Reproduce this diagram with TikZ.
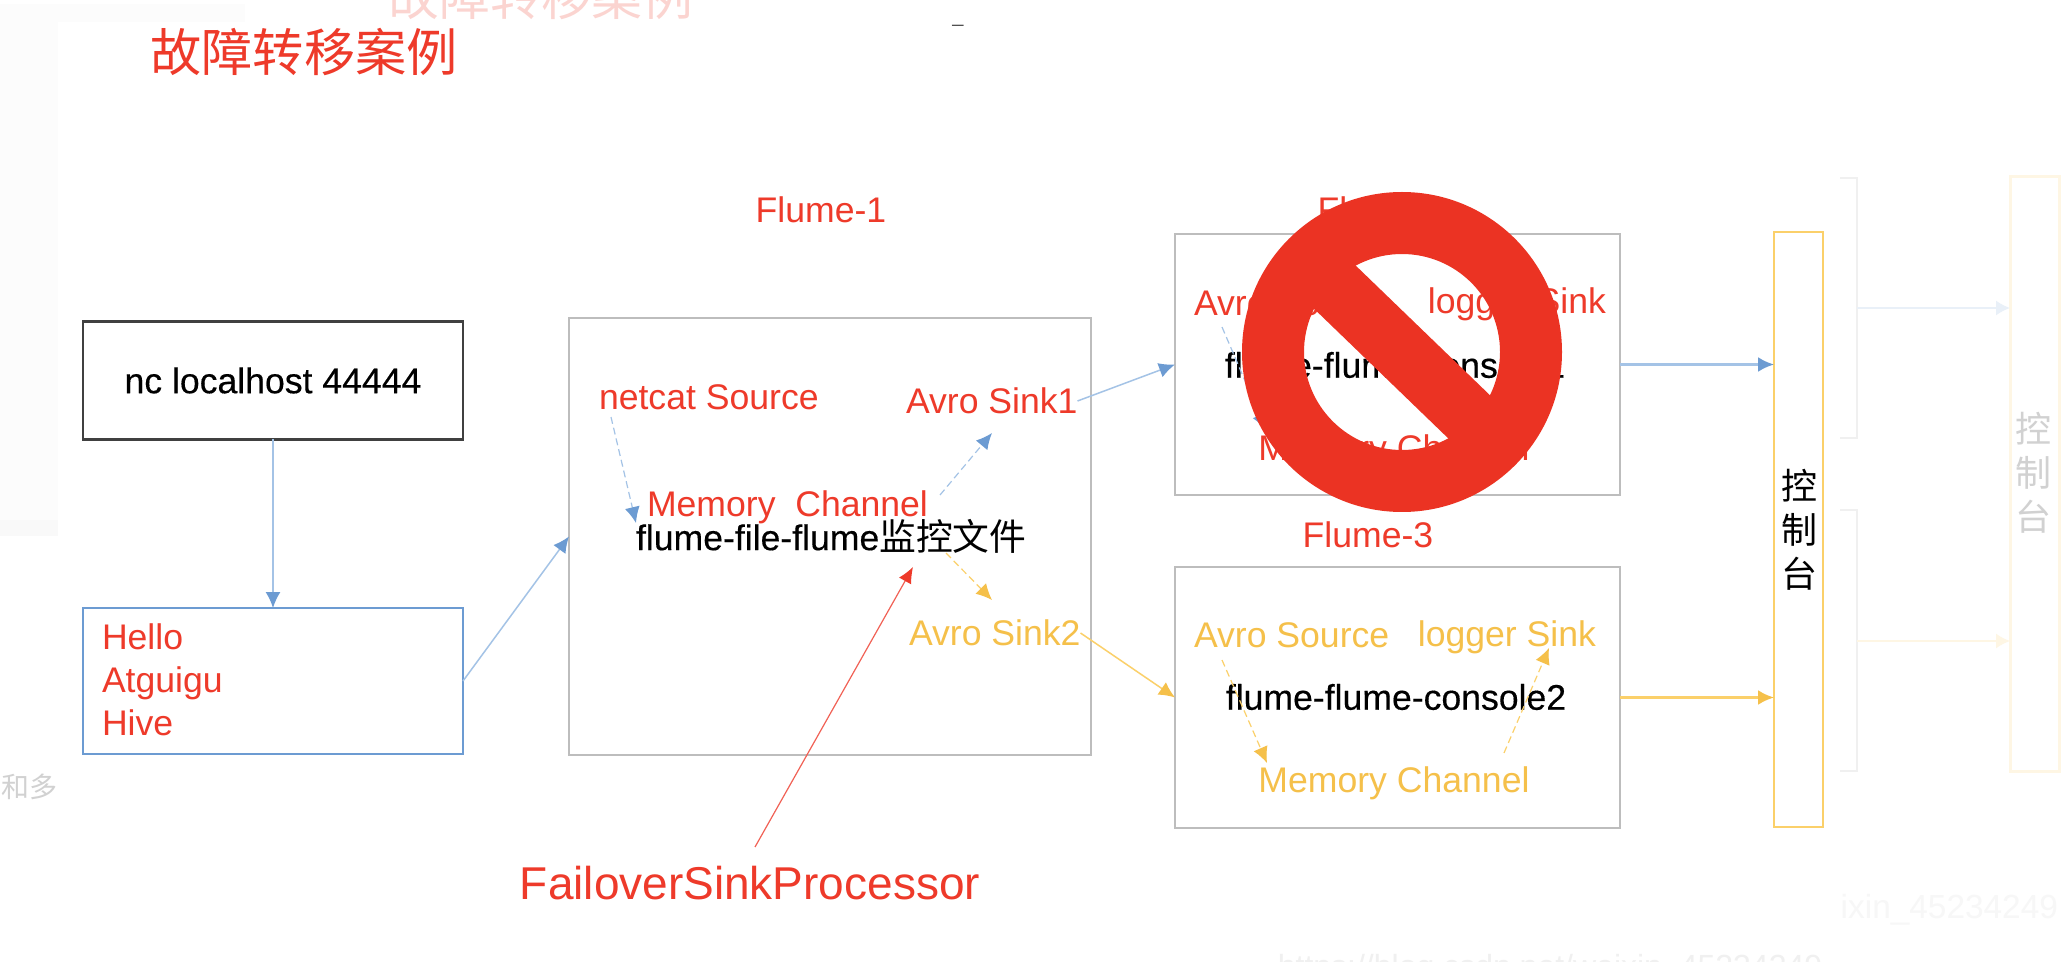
\documentclass[tikz,border=0pt]{standalone}
\usepackage{fontspec}
\setmainfont{Liberation Sans}
\newfontfamily\cjk{Noto Sans CJK SC}
\newfontfamily\heavy[FakeBold=0.35]{Liberation Sans}
\usetikzlibrary{arrows.meta}
\definecolor{rd}{HTML}{EE3A2A}
\definecolor{stopred}{HTML}{EB3323}
\definecolor{yl}{HTML}{F5C04A}
\definecolor{ylline}{HTML}{FBD06A}
\definecolor{blu}{HTML}{6C9BD2}
\definecolor{bluline}{HTML}{A4C3E6}
\definecolor{gry}{HTML}{BDBDBD}
\tikzset{
  x=0.5pt,y=-0.5pt,
  txt/.style={inner sep=0pt,outer sep=0pt,font=\fontsize{17.8}{21.5}\selectfont},
  redt/.style={txt,text=rd},
  ylt/.style={txt,text=yl},
  blackt/.style={txt,text=black,font=\heavy\fontsize{17.8}{21.5}\selectfont},
  frame/.style={draw,line width=1.1pt,inner sep=0pt,outer sep=0pt,rectangle,fill=none},
  bluearrow/.style={draw=bluline,line width=0.75pt,arrows={-{Latex[length=8pt,width=7.5pt,color=blu]}}},
  yelarrow/.style={draw=ylline,line width=0.75pt,arrows={-{Latex[length=8pt,width=7.5pt,color=yl]}}},
  redarrow/.style={draw=rd!80,line width=0.6pt,arrows={-{Latex[length=8pt,width=7pt,color=rd]}}},
  dash blue/.style={bluearrow,line width=0.6pt,dash pattern=on 3.5pt off 2pt},
  dash yel/.style={yelarrow,line width=0.6pt,dash pattern=on 3.5pt off 2pt},
}
\begin{document}
\begin{tikzpicture}
\useasboundingbox (0,0) rectangle (2062,962);
\fill[white] (0,0) rectangle (2062,962);
% faded screenshot background
\fill[black!1] (0,4) rectangle (245,22);
\fill[black!1] (0,22) rectangle (58,520);
\fill[black!2.5] (0,520) rectangle (58,536);
\node[txt,text=rd!22,font=\cjk\fontsize{25.4}{30}\selectfont] (ghosttitle) at (541,-4) {故障转移案例};
\node[txt,text=black!70,font=\fontsize{10}{12}\selectfont] (ghostdash) at (958,24) {\_};
\node[txt,text=black!18,font=\cjk\fontsize{14}{17}\selectfont] (ghostduo) at (30,787) {和多};
\node[txt,text=black!3,font=\fontsize{16.7}{20}\selectfont,anchor=east] (ghostid) at (2058,910) {ixin\_45234249};
\node[txt,text=black!6,font=\fontsize{16}{20}\selectfont] (ghosturl) at (1550,969) {https://blog.csdn.net/weixin\_45234249};
% faded right part
\draw[black!6,line width=1pt] (1840,178) -- (1857,178) -- (1857,438) -- (1840,438);
\draw[black!6,line width=1pt] (1840,510) -- (1857,510) -- (1857,771) -- (1840,771);
\node[frame,draw=yl!15,line width=1.5pt,minimum width=24.5pt,minimum height=297.5pt] (ghostcon) at (2034.5,474) {};
\draw[draw=blu!15,line width=0.9pt,-{Latex[length=7pt,width=7.5pt]}] (1857,308) -- (ghostcon.west |- 0,308);
\draw[draw=yl!15,line width=0.9pt,-{Latex[length=7pt,width=7.5pt]}] (1857,641) -- (ghostcon.west |- 0,641);
\node[txt,text=black!18,font=\cjk\fontsize{18}{22}\selectfont,align=center] (ghosttxt) at (2033,473) {控\\制\\台};

% title
\node[txt,text=rd,font=\cjk\fontsize{25.6}{30}\selectfont] (title) at (304,52) {故障转移案例};

% source boxes
\node[frame,draw=black!75,minimum width=190pt,minimum height=59pt,blackt] (nc) at (273,380.5) {nc localhost 44444};
\node[frame,draw=blu,minimum width=190pt,minimum height=73pt] (hello) at (273,681) {};
\node[redt,anchor=west,align=left] (hellotxt) at (102,680) {Hello\\Atguigu\\Hive};

% Flume-1
\node[redt] (f1lbl) at (821,210) {Flume-1};
\node[frame,draw=gry,minimum width=261pt,minimum height=218.5pt] (f1) at (830,536.5) {};
\node[redt,anchor=west] (netcat) at (599,397) {netcat Source};
\node[redt,anchor=west] (sink1) at (906,401) {Avro Sink1};
\node[redt,anchor=west] (mem1) at (647,507) {Memory\ \ Channel};
\node[blackt,anchor=west] (f1name) at (636,536) {flume-file-flume{\cjk\fontsize{18.4}{21.5}\selectfont 监控文件}};
\node[ylt,anchor=west] (sink2) at (909,633) {Avro Sink2};

% Flume-2
\node[redt] (f2lbl) at (1383,210) {Flume-2};
\node[frame,draw=gry,minimum width=222.5pt,minimum height=130.5pt] (f2) at (1397.5,364.5) {};
\node[redt,anchor=west] (src2) at (1194,303) {Avro Source};
\node[redt,anchor=east] (log2) at (1606,304) {logger Sink};
\node[blackt] (f2name) at (1395,365) {flume-flume-console1};
\node[redt] (mem2) at (1394,451) {Memory Channel};

% Flume-3
\node[redt] (f3lbl) at (1368,535) {Flume-3};
\node[frame,draw=gry,minimum width=222.5pt,minimum height=130.5pt] (f3) at (1397.5,697.5) {};
\node[ylt,anchor=west] (src3) at (1194,635) {Avro Source};
\node[ylt,anchor=east] (log3) at (1596,637) {logger Sink};
\node[blackt] (f3name) at (1396,697) {flume-flume-console2};
\node[ylt] (mem3) at (1394,783) {Memory Channel};

% console
\node[frame,draw=ylline,minimum width=24.5pt,minimum height=297.5pt] (con) at (1798.5,529.5) {};
\node[txt,text=black,font=\cjk\fontsize{18}{22}\selectfont,align=center] (contxt) at (1799,530) {控\\制\\台};

% failover
\node[txt,text=rd,font=\fontsize{23}{27}\selectfont] (fail) at (750,883) {FailoverSinkProcessor};

% free connector ends
\coordinate (a1) at (611,417); \coordinate (a2) at (636,523);
\coordinate (b1) at (940,495); \coordinate (b2) at (992,433);
\coordinate (c1) at (946,553); \coordinate (c2) at (992,600);
\coordinate (d1) at (755,847); \coordinate (d2) at (913,567);
\coordinate (e1) at (1222,327); \coordinate (e2) at (1266,430);
\coordinate (g1) at (1222,660); \coordinate (g2) at (1267,763);
\coordinate (h1) at (1504,753); \coordinate (h2) at (1549,648);

% connectors
\draw[bluearrow] (nc.south) -- (hello.north);
\draw[bluearrow] (hello.east) -- (f1.west);
\draw[bluearrow] (sink1.east) -- (f2.west);
\draw[yelarrow] (sink2.east) -- (f3.west);
\draw[bluearrow,line width=1.2pt] (f2.east) -- (f2.east -| con.west);
\draw[yelarrow,line width=1.2pt] (f3.east) -- (f3.east -| con.west);
\draw[dash blue] (a1) -- (a2);
\draw[dash blue] (b1) -- (b2);
\draw[dash yel] (c1) -- (c2);
\draw[dash blue] (e1) -- (e2);
\draw[dash yel] (g1) -- (g2);
\draw[dash yel] (h1) -- (h2);
\draw[redarrow] (d1) -- (d2);

% prohibition sign
\fill[stopred,even odd rule] (1402,352) circle[radius=160] (1402,352) circle[radius=98];
\fill[stopred,rotate around={-44:(1402,352)}] (1266,322) rectangle (1538,382);
\end{tikzpicture}
\end{document}
